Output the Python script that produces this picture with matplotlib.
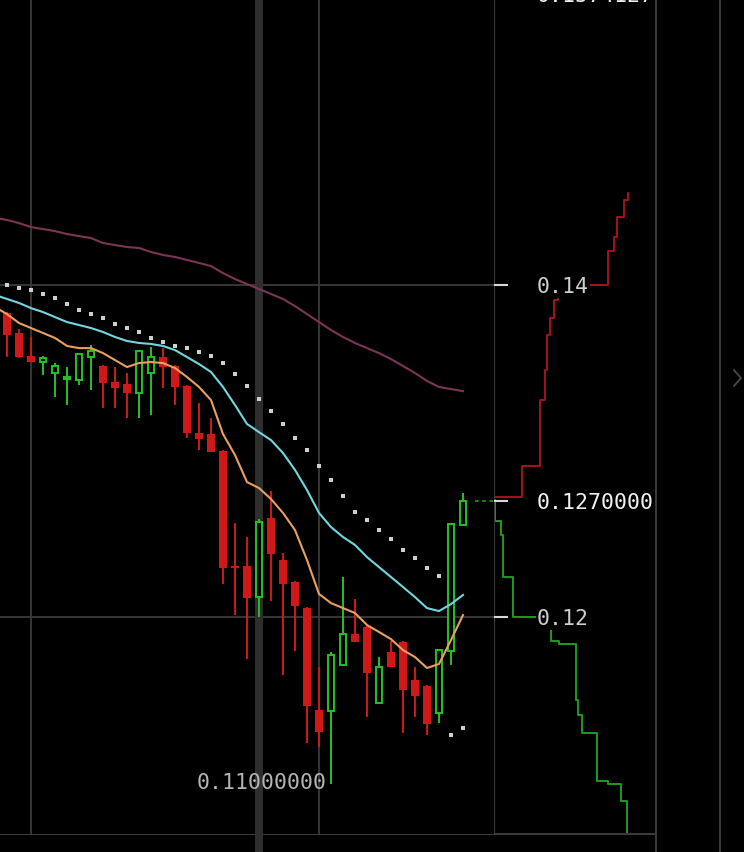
import numpy as np
import matplotlib
matplotlib.use("Agg")
import matplotlib.pyplot as plt
from matplotlib.lines import Line2D

# candles (price)
opens = [0.13831, 0.13711, 0.13572, 0.13536, 0.13470, 0.13434, 0.13428, 0.13566, 0.13512, 0.13416,
         0.13404, 0.13349, 0.13470, 0.13566, 0.13512, 0.13392, 0.13108, 0.13102, 0.13000, 0.12307,
         0.12307, 0.12120, 0.12596, 0.12343, 0.12211, 0.12054, 0.11440, 0.11434, 0.11711, 0.11898,
         0.11940, 0.11482, 0.11789, 0.11849, 0.11620, 0.11584, 0.11422, 0.11795, 0.12554]
highs = [0.13837, 0.13735, 0.13687, 0.13572, 0.13530, 0.13506, 0.13590, 0.13639, 0.13518, 0.13506,
         0.13470, 0.13608, 0.13627, 0.13620, 0.13518, 0.13398, 0.13289, 0.13199, 0.13006, 0.12566,
         0.12482, 0.12590, 0.12759, 0.12386, 0.12217, 0.12060, 0.11699, 0.11789, 0.12241, 0.12108,
         0.11946, 0.11759, 0.11855, 0.11855, 0.11699, 0.11590, 0.11807, 0.12566, 0.12747]
lows = [0.13566, 0.13560, 0.13536, 0.13458, 0.13325, 0.13277, 0.13398, 0.13367, 0.13259, 0.13259,
        0.13199, 0.13199, 0.13217, 0.13380, 0.13277, 0.13078, 0.13006, 0.12994, 0.12199, 0.12012,
        0.11747, 0.12000, 0.12096, 0.11651, 0.11795, 0.11241, 0.11217, 0.10994, 0.11711, 0.11849,
        0.11398, 0.11482, 0.11699, 0.11301, 0.11398, 0.11289, 0.11361, 0.11711, 0.12554]
closes = [0.13699, 0.13566, 0.13536, 0.13560, 0.13512, 0.13440, 0.13584, 0.13602, 0.13410, 0.13380,
          0.13349, 0.13602, 0.13566, 0.13506, 0.13386, 0.13108, 0.13072, 0.12994, 0.12295, 0.12295,
          0.12114, 0.12572, 0.12380, 0.12199, 0.12066, 0.11464, 0.11307, 0.11771, 0.11898, 0.11849,
          0.11663, 0.11699, 0.11699, 0.11560, 0.11524, 0.11355, 0.11801, 0.12560, 0.12700]

# moving averages (first value is one candle left of the window)
ma_orange = [0.13867, 0.13825, 0.13771, 0.13741, 0.13711, 0.13681, 0.13633, 0.13620, 0.13620, 0.13590,
             0.13548, 0.13506, 0.13530, 0.13536, 0.13530, 0.13500, 0.13446, 0.13386, 0.13307, 0.13102,
             0.12976, 0.12813, 0.12777, 0.12711, 0.12627, 0.12524, 0.12343, 0.12139, 0.12084, 0.12054,
             0.12024, 0.11952, 0.11910, 0.11867, 0.11801, 0.11759, 0.11693, 0.11717, 0.11861, 0.12012]
ma_cyan = [0.13940, 0.13916, 0.13892, 0.13861, 0.13837, 0.13807, 0.13777, 0.13759, 0.13741, 0.13717,
           0.13687, 0.13663, 0.13651, 0.13645, 0.13633, 0.13608, 0.13566, 0.13524, 0.13476, 0.13386,
           0.13277, 0.13163, 0.13114, 0.13066, 0.12988, 0.12886, 0.12765, 0.12627, 0.12542, 0.12482,
           0.12434, 0.12361, 0.12301, 0.12241, 0.12181, 0.12120, 0.12054, 0.12036, 0.12078, 0.12133]
ma_purple = [0.14404, 0.14392, 0.14373, 0.14349, 0.14337, 0.14325, 0.14307, 0.14295, 0.14283, 0.14253,
             0.14241, 0.14229, 0.14223, 0.14199, 0.14181, 0.14169, 0.14151, 0.14133, 0.14114, 0.14072,
             0.14036, 0.14006, 0.13976, 0.13946, 0.13916, 0.13873, 0.13825, 0.13777, 0.13729, 0.13687,
             0.13651, 0.13620, 0.13590, 0.13554, 0.13512, 0.13470, 0.13422, 0.13386, 0.13373, 0.13361]
sar = [0.14000, 0.13982, 0.13970, 0.13946, 0.13922, 0.13886, 0.13849, 0.13825, 0.13801, 0.13765,
       0.13741, 0.13717, 0.13681, 0.13657, 0.13633, 0.13620, 0.13596, 0.13572, 0.13530, 0.13464,
       0.13392, 0.13313, 0.13241, 0.13163, 0.13078, 0.13006, 0.12910, 0.12825, 0.12729, 0.12633,
       0.12584, 0.12524, 0.12470, 0.12404, 0.12355, 0.12295, 0.12247, 0.11289, 0.11331]

# order book depth (cumulative size, price)
ask_depth = [0, 28, 46, 51, 53, 56, 60, 64, 76, 114, 120, 123, 130, 134, 134]
ask_price = [0.12723, 0.12723, 0.12910, 0.13307, 0.13488, 0.13699, 0.13801, 0.13910, 0.13952, 0.14000,
             0.14205, 0.14289, 0.14410, 0.14512, 0.14554]
bid_depth = [1, 7, 9, 19, 57, 65, 82, 84, 88, 103, 114, 127, 133, 133]
bid_price = [0.12705, 0.12578, 0.12494, 0.12241, 0.12000, 0.11855, 0.11837, 0.11500, 0.11410, 0.11301,
             0.11012, 0.10994, 0.10892, 0.10699]

price_ticks = [0.12, 0.127, 0.14]
price_labels = ['0.12', '0.1270000', '0.14']
last_price = 0.127
low_mark = 0.11
top_mark = 0.1574127

RED = '#d01818'
GREEN = '#22c322'
GRID = '#3a3a3a'
MONO = 'DejaVu Sans Mono'

W, H = 744, 852
fig = plt.figure(figsize=(W / 100, H / 100), dpi=100, facecolor='black')
bot = (H - 834) / H
ax = fig.add_axes([0, bot, 494 / W, 834 / H], facecolor='black', zorder=2)
dax = fig.add_axes([494 / W, bot, 162 / W, 834 / H], facecolor='none', zorder=1)

ylim = (0.10693, 0.15717)
idx = np.arange(len(opens))
o, h, l, c = map(np.array, (opens, highs, lows, closes))
up = c >= o

# grid + crosshair
ax.axhline(0.14, color=GRID, lw=1.3, zorder=0)
ax.axhline(0.12, color=GRID, lw=1.3, zorder=0)
ax.axvline(2, color=GRID, lw=1.3, zorder=0)
ax.axvline(26, color=GRID, lw=1.3, zorder=0)
ax.axvline(21, ymin=-0.03, ymax=1, color='#2e2e2e', lw=5.8, zorder=0, clip_on=False)

# moving averages
ma_x = np.arange(-1, len(opens))
ax.plot(ma_x, ma_purple, color='#7c3557', lw=1.5, zorder=1)
ax.plot(ma_x, ma_cyan, color='#72d6df', lw=1.5, zorder=3)
ax.plot(ma_x, ma_orange, color='#e9a060', lw=1.5, zorder=3)

# candles
ax.vlines(idx[up], l[up], h[up], color=GREEN, lw=1.4, zorder=2)
ax.vlines(idx[~up], l[~up], h[~up], color=RED, lw=1.4, zorder=2)
body_lo = np.minimum(o, c)
body_h = np.maximum(np.abs(c - o), 0.00012)
ax.bar(idx[~up], body_h[~up], bottom=body_lo[~up], width=0.6, color=RED, lw=0, zorder=2)
ax.bar(idx[up], body_h[up], bottom=body_lo[up], width=0.5, facecolor='black',
       edgecolor=GREEN, lw=1.4, zorder=2)

# parabolic sar dots
ax.scatter(idx, sar, marker='s', s=8, color='#cfcfcf', lw=0, zorder=4)

# last price line
ax.hlines(last_price, 39.0, 40.6, colors='#1f8f1f', linestyles=(0, (2, 2)), lw=1.3, zorder=2)

ax.set_xlim(-7 / 12, 487 / 12)
ax.set_ylim(*ylim)
for s in ax.spines.values():
    s.set_visible(False)
ax.set_xticks([])
ax.yaxis.tick_right()
ax.set_yticks(price_ticks)
ax.set_yticklabels(price_labels)
ax.tick_params(axis='y', direction='out', length=10, width=1.5, color='#d8d8d8', pad=21,
               labelsize=15.5, labelcolor='#cfcfcf')
for lbl in ax.get_yticklabels():
    lbl.set_family(MONO)
    lbl.set_bbox(dict(facecolor='black', edgecolor='none', pad=1))
ax.get_yticklabels()[1].set_color('#f2f2f2')

ax.annotate(f'{top_mark:.7f}', xy=(1, top_mark), xycoords=('axes fraction', 'data'),
            xytext=(31, 0), textcoords='offset points', ha='left', va='center',
            fontsize=15.5, family=MONO, color='#f2f2f2', annotation_clip=False)
ax.annotate(f'{low_mark:.8f}', xy=(27, low_mark), xytext=(-3.5, 0), textcoords='offset points',
            ha='right', va='center', fontsize=15.5, family=MONO, color='#b4b4b4',
            annotation_clip=False, zorder=5)

# depth chart
dax.plot(ask_depth, ask_price, drawstyle='steps-pre', color='#a5121c', lw=1.4)
dax.plot(bid_depth, bid_price, drawstyle='steps-pre', color='#1f9a1f', lw=1.4)
dax.set_xlim(0, 162)
dax.set_ylim(*ylim)
dax.set_xticks([])
dax.set_yticks([])
for name, s in dax.spines.items():
    s.set_visible(name == 'left')
dax.spines['left'].set_color(GRID)
dax.spines['left'].set_linewidth(1.5)

# frame lines on the right and bottom
fig.add_artist(Line2D([0, 656 / W], [bot, bot], color=GRID, lw=1.5))
fig.add_artist(Line2D([656 / W, 656 / W], [0, 1], color=GRID, lw=1.5))
fig.add_artist(Line2D([720 / W, 720 / W], [0, 1], color=GRID, lw=1.5))
fig.add_artist(Line2D([734 / W, 741 / W, 734 / W], [1 - 370 / H, 1 - 378 / H, 1 - 386 / H],
                      color='#4a4a4a', lw=1.3))

fig.savefig('out.png', dpi=100, facecolor='black')
